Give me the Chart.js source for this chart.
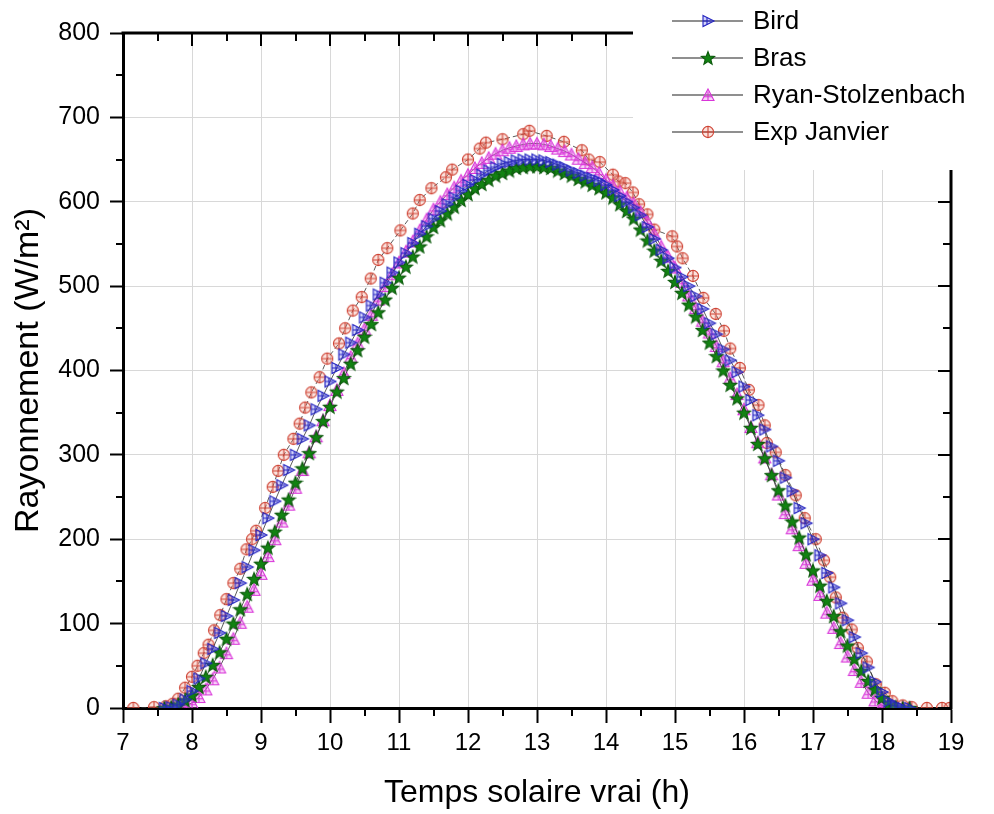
<!DOCTYPE html>
<html lang="fr">
<head>
  <meta charset="UTF-8" />
  <title>Rayonnement - Janvier</title>

  <!-- Chart.js for plotting -->
  <script src="https://cdn.jsdelivr.net/npm/chart.js"></script>

  <style>
    /* White page, chart fills the window */
    body {
      margin: 0;
      background: #fff;
    }

    .wrap {
      width: 994px;
      height: 814px;
    }
  </style>
</head>
<body>
  <div class="wrap">
    <canvas id="rayChart"></canvas>
  </div>

  <script>
    // Hours of the model series (0.1 h step)
    const modelHours = [
      7.6, 7.7, 7.8, 7.9, 8.0, 8.1, 8.2, 8.3, 8.4, 8.5,
      8.6, 8.7, 8.8, 8.9, 9.0, 9.1, 9.2, 9.3, 9.4, 9.5,
      9.6, 9.7, 9.8, 9.9, 10.0, 10.1, 10.2, 10.3, 10.4, 10.5,
      10.6, 10.7, 10.8, 10.9, 11.0, 11.1, 11.2, 11.3, 11.4, 11.5,
      11.6, 11.7, 11.8, 11.9, 12.0, 12.1, 12.2, 12.3, 12.4, 12.5,
      12.6, 12.7, 12.8, 12.9, 13.0, 13.1, 13.2, 13.3, 13.4, 13.5,
      13.6, 13.7, 13.8, 13.9, 14.0, 14.1, 14.2, 14.3, 14.4, 14.5,
      14.6, 14.7, 14.8, 14.9, 15.0, 15.1, 15.2, 15.3, 15.4, 15.5,
      15.6, 15.7, 15.8, 15.9, 16.0, 16.1, 16.2, 16.3, 16.4, 16.5,
      16.6, 16.7, 16.8, 16.9, 17.0, 17.1, 17.2, 17.3, 17.4, 17.5,
      17.6, 17.7, 17.8, 17.9, 18.0, 18.1, 18.2, 18.3, 18.4
    ];

    // Bird model (W/m²)
    const birdValues = [
      0, 1, 4, 10, 20, 35, 53, 70, 89, 109,
      128, 148, 167, 187, 205, 225, 245, 264, 282, 300,
      319, 335, 354, 370, 387, 403, 419, 433, 448, 463,
      477, 490, 504, 516, 528, 539, 551, 562, 571, 580,
      589, 597, 605, 613, 620, 626, 632, 637, 641, 645,
      647, 649, 650, 650, 650, 649, 647, 644, 641, 637,
      634, 631, 628, 625, 620, 614, 607, 600, 593, 584,
      570, 556, 543, 533, 522, 511, 500, 488, 473, 456,
      443, 425, 412, 398, 381, 365, 347, 330, 310, 293,
      273, 257, 237, 219, 200, 181, 160, 143, 124, 104,
      84, 65, 48, 31, 19, 8, 3, 0, 0
    ];

    // Bras model (W/m²)
    const brasValues = [
      0, 1, 4, 9, 15, 25, 37, 51, 66, 82,
      100, 117, 135, 153, 171, 190, 209, 229, 247, 267,
      284, 302, 321, 340, 357, 375, 391, 408, 424, 440,
      455, 469, 484, 498, 510, 523, 535, 547, 559, 570,
      578, 586, 594, 602, 609, 616, 621, 626, 631, 634,
      637, 640, 641, 642, 642, 641, 640, 637, 634, 631,
      627, 624, 620, 616, 611, 605, 597, 589, 580, 567,
      554, 542, 530, 518, 505, 492, 478, 464, 448, 433,
      417, 400, 383, 367, 350, 332, 313, 296, 276, 258,
      240, 221, 202, 182, 163, 145, 127, 109, 91, 74,
      58, 44, 32, 22, 12, 5, 1, 0, 0
    ];

    // Ryan-Stolzenbach model (W/m²)
    const ryanValues = [
      0, 0, 1, 3, 6, 13, 22, 34, 48, 65,
      82, 101, 120, 140, 159, 180, 200, 221, 241, 261,
      282, 303, 322, 341, 359, 377, 397, 416, 432, 449,
      466, 484, 500, 514, 528, 541, 553, 566, 579, 591,
      600, 609, 617, 625, 632, 640, 646, 652, 657, 661,
      664, 666, 668, 669, 669, 668, 666, 663, 660, 656,
      651, 646, 641, 634, 626, 619, 612, 605, 598, 588,
      576, 562, 547, 535, 522, 505, 489, 474, 459, 445,
      429, 411, 391, 372, 354, 333, 315, 297, 277, 253,
      231, 213, 193, 172, 152, 134, 113, 95, 77, 61,
      45, 31, 18, 9, 3, 0, 0, 0, 0
    ];

    // Measured data, January
    const expHours = [
      7.15, 7.45, 7.62, 7.72, 7.8, 7.9, 8.0, 8.08, 8.17, 8.24,
      8.32, 8.41, 8.5, 8.6, 8.7, 8.79, 8.87, 8.93, 9.06, 9.17,
      9.25, 9.33, 9.47, 9.56, 9.64, 9.73, 9.85, 9.96, 10.13, 10.22,
      10.33, 10.46, 10.59, 10.7, 10.83, 11.02, 11.2, 11.3, 11.47, 11.68,
      11.77, 12.0, 12.17, 12.26, 12.5, 12.8, 12.89, 13.14, 13.39, 13.65,
      13.75, 13.91, 14.1, 14.18, 14.28, 14.39, 14.48, 14.6, 14.7, 14.96,
      15.03, 15.11, 15.26, 15.41, 15.59, 15.71, 15.8, 15.94, 16.07, 16.21,
      16.3, 16.33, 16.46, 16.6, 16.75, 16.88, 17.04, 17.16, 17.25, 17.33,
      17.43, 17.56, 17.65, 17.78, 17.91, 18.04, 18.15, 18.3, 18.43, 18.65,
      18.87, 18.98
    ];
    const expValues = [
      0, 1, 2, 5, 11, 24, 37, 50, 65, 75,
      92, 110, 129, 148, 165, 188, 200, 210, 237, 262,
      281, 300, 319, 337, 356, 374, 392, 414, 432, 450,
      471, 487, 509, 531, 545, 566, 586, 602, 616, 629,
      638, 650, 663, 670, 674, 680, 684, 678, 671, 661,
      650, 647, 632, 624, 622, 611, 597, 585, 567, 559,
      547, 533, 512, 486, 467, 447, 426, 403, 377, 359,
      335, 314, 303, 276, 252, 225, 200, 175, 155, 131,
      107, 93, 71, 55, 28, 18, 8, 3, 1, 0,
      0, 0
    ];

    const seriesNames = ["Bird", "Bras", "Ryan-Stolzenbach", "Exp Janvier"];

    const FONT = "'Liberation Sans', Arial, sans-serif";

    // Small canvases used as point markers (Origin-like symbols)
    function makeMarker(kind) {
      const c = document.createElement("canvas");
      c.width = 16;
      c.height = 16;
      const g = c.getContext("2d");
      g.lineWidth = 1.1;
      if (kind === "bird") {
        // right triangle with a cross
        g.strokeStyle = "#2323c0";
        g.fillStyle = "rgba(110,110,240,0.3)";
        g.beginPath();
        g.moveTo(3, 2.5); g.lineTo(14, 8); g.lineTo(3, 13.5); g.closePath();
        g.fill(); g.stroke();
        g.beginPath();
        g.moveTo(7, 4.5); g.lineTo(7, 11.5);
        g.moveTo(3, 8); g.lineTo(11.5, 8);
        g.stroke();
      } else if (kind === "bras") {
        // filled star
        g.fillStyle = "#128212";
        g.strokeStyle = "#0b5a0b";
        g.beginPath();
        for (let i = 0; i < 10; i++) {
          const r = i % 2 === 0 ? 7 : 3;
          const a = -Math.PI / 2 + i * Math.PI / 5;
          const px = 8 + r * Math.cos(a), py = 8.6 + r * Math.sin(a);
          if (i === 0) g.moveTo(px, py); else g.lineTo(px, py);
        }
        g.closePath();
        g.fill(); g.stroke();
      } else if (kind === "ryan") {
        // up triangle with a cross
        g.strokeStyle = "#d935d9";
        g.fillStyle = "rgba(230,110,230,0.3)";
        g.beginPath();
        g.moveTo(8, 2); g.lineTo(14, 13.5); g.lineTo(2, 13.5); g.closePath();
        g.fill(); g.stroke();
        g.beginPath();
        g.moveTo(8, 4.5); g.lineTo(8, 13.5);
        g.moveTo(3.8, 9.8); g.lineTo(12.2, 9.8);
        g.stroke();
      } else {
        // circle with a cross
        g.strokeStyle = "#cf4435";
        g.fillStyle = "rgba(240,140,120,0.25)";
        g.beginPath();
        g.arc(8, 8, 5.6, 0, Math.PI * 2);
        g.fill(); g.stroke();
        g.beginPath();
        g.moveTo(8, 2.4); g.lineTo(8, 13.6);
        g.moveTo(2.4, 8); g.lineTo(13.6, 8);
        g.stroke();
      }
      return c;
    }

    const markers = [makeMarker("bird"), makeMarker("bras"), makeMarker("ryan"), makeMarker("exp")];

    function toPoints(hours, values) {
      return hours.map((h, i) => ({ x: h, y: values[i] }));
    }

    // Top/right frame, minor ticks, and the legend box
    const framePlugin = {
      id: "frame",
      afterDraw(chart) {
        const { ctx, chartArea: a, scales: { x, y } } = chart;
        ctx.save();
        ctx.strokeStyle = "#000";
        ctx.lineWidth = 3;
        ctx.beginPath();
        ctx.moveTo(a.left - 1.5, a.top);
        ctx.lineTo(a.right + 1.5, a.top);
        ctx.moveTo(a.right, a.top);
        ctx.lineTo(a.right, a.bottom + 1.5);
        ctx.stroke();

        ctx.lineWidth = 2;
        ctx.beginPath();
        for (let v = 7; v <= 19; v += 0.5) {
          const px = Math.round(x.getPixelForValue(v));
          const major = v % 1 === 0;
          if (!major) {
            ctx.moveTo(px, a.bottom);
            ctx.lineTo(px, a.bottom + 8);
          }
          ctx.moveTo(px, a.top);
          ctx.lineTo(px, a.top + (major ? 13 : 8));
        }
        for (let v = 0; v <= 800; v += 50) {
          const py = Math.round(y.getPixelForValue(v));
          const major = v % 100 === 0;
          if (!major) {
            ctx.moveTo(a.left, py);
            ctx.lineTo(a.left - 7, py);
          }
          ctx.moveTo(a.right, py);
          ctx.lineTo(a.right - (major ? 13 : 8), py);
        }
        ctx.stroke();

        // legend (white box over the top-right corner)
        ctx.fillStyle = "#fff";
        ctx.fillRect(633, 0, 361, 170);
        const rows = [21, 58, 95, 132];
        ctx.font = "26px " + FONT;
        ctx.textBaseline = "middle";
        ctx.textAlign = "left";
        rows.forEach((ry, i) => {
          ctx.strokeStyle = "#6a6a6a";
          ctx.lineWidth = 1.5;
          ctx.beginPath();
          ctx.moveTo(672, ry);
          ctx.lineTo(743, ry);
          ctx.stroke();
          const m = markers[i];
          ctx.drawImage(m, 708 - m.width / 2, ry - m.height / 2);
          ctx.fillStyle = "#000";
          ctx.fillText(seriesNames[i], 753, ry + 1);
        });
        ctx.restore();
      }
    };

    const lineColor = "rgba(50,50,50,0.8)";

    function dataset(i, points) {
      return {
        label: seriesNames[i],
        data: points,
        showLine: true,
        borderColor: lineColor,
        borderWidth: 1,
        borderDash: i === 3 ? [5, 3] : [],
        pointStyle: markers[i],
        pointRadius: 6,
        fill: false,
        tension: 0
      };
    }

    const ctx = document.getElementById("rayChart").getContext("2d");

    const chart = new Chart(ctx, {
      type: "scatter",
      data: {
        datasets: [
          dataset(0, toPoints(modelHours, birdValues)),
          dataset(1, toPoints(modelHours, brasValues)),
          dataset(2, toPoints(modelHours, ryanValues)),
          dataset(3, toPoints(expHours, expValues))
        ]
      },
      options: {
        responsive: true,
        maintainAspectRatio: false,
        animation: false,
        layout: {
          padding: { left: 0, right: 43, top: 33, bottom: 0 }
        },
        plugins: {
          legend: { display: false },
          tooltip: { enabled: false }
        },
        scales: {
          x: {
            type: "linear",
            min: 7,
            max: 19,
            ticks: {
              stepSize: 1,
              color: "#000",
              padding: 6,
              maxRotation: 0,
              font: { family: FONT, size: 24 }
            },
            grid: {
              color: "#d8d8d8",
              lineWidth: 1,
              tickColor: "#000",
              tickLength: 15,
              tickWidth: 2
            },
            border: { color: "#000", width: 3 },
            title: {
              display: true,
              text: "Temps solaire vrai (h)",
              color: "#000",
              font: { family: FONT, size: 32 },
              padding: { top: 0, bottom: 2 }
            },
            afterFit: (s) => { s.height = 814 - 708; }
          },
          y: {
            min: 0,
            max: 800,
            ticks: {
              stepSize: 100,
              color: "#000",
              padding: 10,
              font: { family: FONT, size: 25 }
            },
            grid: {
              color: "#d8d8d8",
              lineWidth: 1,
              tickColor: "#000",
              tickLength: 13,
              tickWidth: 2
            },
            border: { color: "#000", width: 3 },
            title: {
              display: true,
              text: "Rayonnement (W/m²)",
              color: "#000",
              font: { family: FONT, size: 34 },
              padding: { top: 8, bottom: 0 }
            },
            afterFit: (s) => { s.width = 123; }
          }
        }
      },
      plugins: [framePlugin]
    });
  </script>
</body>
</html>
